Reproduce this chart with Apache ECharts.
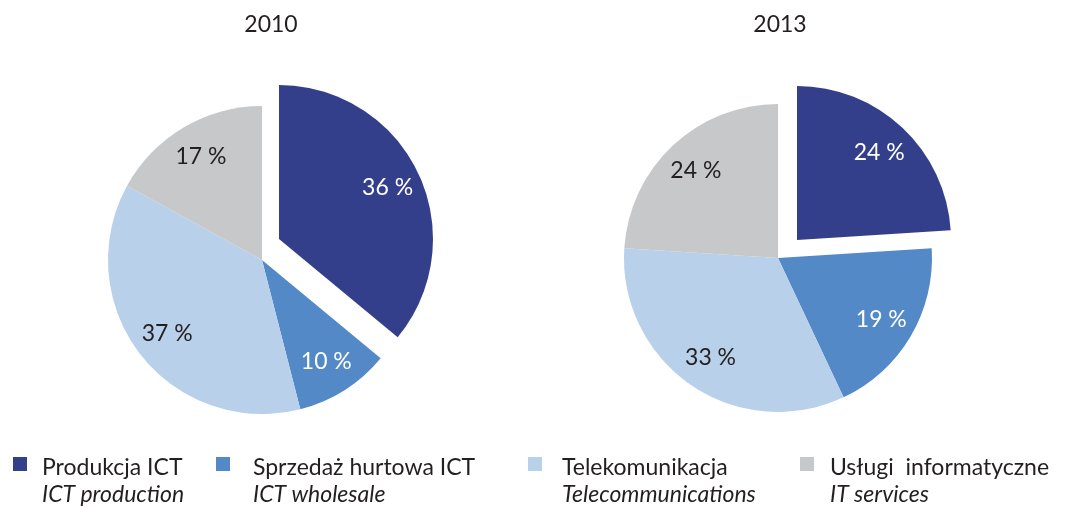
<!DOCTYPE html>
<html>
<head>
<meta charset="utf-8">
<script src="https://cdn.jsdelivr.net/npm/echarts@6/dist/echarts.min.js"></script>
<style>
  html, body { margin: 0; padding: 0; background: #fff; }
  #main { width: 1066px; height: 508px; }
</style>
</head>
<body>
<div id="main"></div>
<script>
// dane
var years = ['2010', '2013'];
var categories = ['Produkcja ICT', 'Sprzedaż hurtowa ICT', 'Telekomunikacja', 'Usługi  informatyczne'];
var categoriesEn = ['ICT production', 'ICT wholesale', 'Telecommunications', 'IT services'];
var values2010 = [36, 10, 37, 17];
var values2013 = [24, 19, 33, 24];

var colors = ['#343f8b', '#5389c6', '#b9d0eb', '#c7c8ca'];
var labelColors = ['#ffffff', '#ffffff', '#231f20', '#231f20'];
var FONT = 'Lato, "Open Sans", sans-serif';
var FS = 23;
var R = 154;
var R_LABEL = 80; // wewnetrzny promien pierscienia dla etykiet

var myChart = echarts.init(document.getElementById('main'));

//budowa serii dla jednego wykresu kolowego (pierwszy wycinek wysuniety)
function buildPie(values, center, offset) {
    var total = values.reduce(function (a, b) { return a + b; }, 0);
    var moved = [center[0] + offset[0], center[1] + offset[1]];
    var hidden = function (v) {
        return { name: '', value: v, itemStyle: { color: 'rgba(0,0,0,0)' }, label: { show: false } };
    };
    var item = function (i) {
        return {
            name: categories[i],
            value: values[i],
            itemStyle: { color: colors[i] },
            label: { color: labelColors[i] }
        };
    };
    var movedData = [item(0), hidden(total - values[0])];
    var restData = [hidden(values[0])].concat([1, 2, 3].map(item));
    var base = {
        type: 'pie',
        silent: true,
        clockwise: true,
        startAngle: 90,
        avoidLabelOverlap: false,
        labelLine: { show: false },
        emphasis: { disabled: true }
    };
    var fill = function (c, data) {
        return Object.assign({}, base, {
            center: c, radius: [0, R], data: data, label: { show: false }
        });
    };
    var labels = function (c, data) {
        return Object.assign({}, base, {
            center: c,
            radius: [R_LABEL, R],
            data: data.map(function (d) {
                return Object.assign({}, d, { itemStyle: { color: 'rgba(0,0,0,0)' } });
            }),
            label: {
                show: true,
                position: 'inside',
                formatter: '{c} %',
                fontFamily: FONT,
                fontSize: FS
            }
        });
    };
    return [fill(moved, movedData), fill(center, restData), labels(moved, movedData), labels(center, restData)];
}

var series = buildPie(values2010, [262, 260], [17, -21])
    .concat(buildPie(values2013, [778, 258], [19, -18]));

//legenda: cztery osobne komponenty, zeby odstepy byly jak w oryginale
var legendLeft = [13, 216, 528, 800];
var legendPad = [10, 18, 15, 11];
var legends = categories.map(function (name, i) {
    return {
        left: legendLeft[i],
        top: 455,
        padding: 0,
        orient: 'horizontal',
        selectedMode: false,
        itemWidth: 14,
        itemHeight: 52,
        icon: 'path://M0,0h14M0,2h14v14h-14zM0,52h14',
        itemStyle: { borderWidth: 0 },
        data: [{ name: name, itemStyle: { color: colors[i] } }],
        formatter: function (n) {
            return '{a|' + n + '}\n{b|' + categoriesEn[categories.indexOf(n)] + '}';
        },
        textStyle: {
            rich: {
                a: { fontFamily: FONT, fontSize: FS, lineHeight: 27, color: '#231f20', padding: [0, 0, 0, legendPad[i]] },
                b: { fontFamily: FONT, fontSize: FS, lineHeight: 27, color: '#231f20', fontStyle: 'italic', padding: [0, 0, 0, legendPad[i]] }
            }
        }
    };
});

var titleStyle = { fontFamily: FONT, fontSize: FS, fontWeight: 'normal', color: '#231f20' };
var option = {
    animation: false,
    backgroundColor: '#ffffff',
    title: [
        { text: years[0], left: 271, top: 13, padding: 0, textAlign: 'center', textStyle: titleStyle },
        { text: years[1], left: 780, top: 13, padding: 0, textAlign: 'center', textStyle: titleStyle }
    ],
    legend: legends,
    series: series
};

myChart.setOption(option);
</script>
</body>
</html>
